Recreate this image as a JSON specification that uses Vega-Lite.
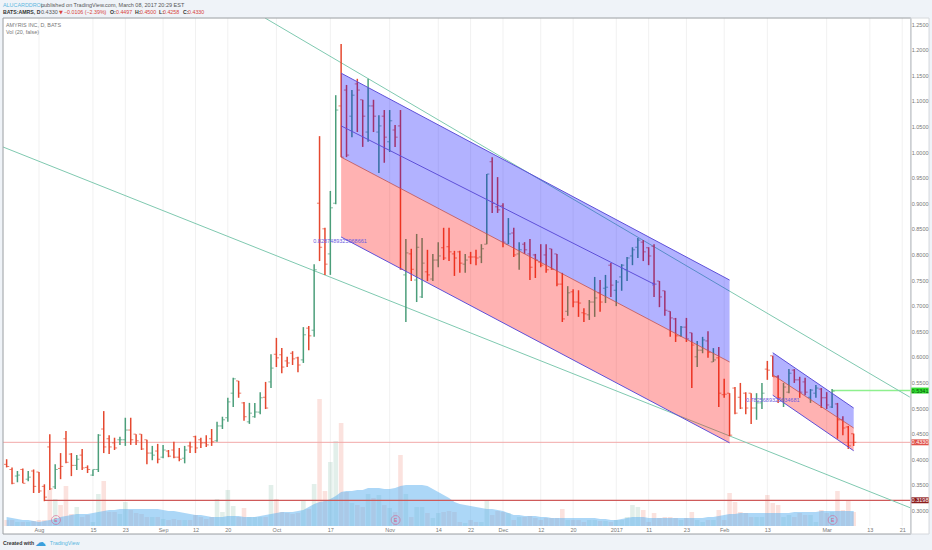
{"$schema":"https://vega.github.io/schema/vega-lite/v6.json","width":932,"height":550,"padding":0,"autosize":{"type":"none"},"background":"#ffffff","config":{"view":{"stroke":null},"font":"Liberation Sans"},
"datasets":{
"bars":[
{"i":-6,"h":0.400,"l":0.384,"o":0.390,"c":0.386,"d":"down","v":6,"ma":9},
{"i":-5,"h":0.384,"l":0.351,"o":0.380,"c":0.353,"d":"down","v":6,"ma":8},
{"i":-4,"h":0.377,"l":0.355,"o":0.367,"c":0.369,"d":"up","v":4,"ma":7},
{"i":-3,"h":0.382,"l":0.353,"o":0.380,"c":0.353,"d":"down","v":4,"ma":6},
{"i":-2,"h":0.377,"l":0.357,"o":0.361,"c":0.365,"d":"up","v":4,"ma":6},
{"i":-1,"h":0.380,"l":0.334,"o":0.377,"c":0.347,"d":"down","v":5,"ma":5},
{"i":0,"h":0.375,"l":0.334,"o":0.375,"c":0.338,"d":"down","v":6,"ma":4},
{"i":1,"h":0.351,"l":0.318,"o":0.347,"c":0.326,"d":"down","v":6,"ma":5},
{"i":2,"h":0.449,"l":0.340,"o":0.424,"c":0.342,"d":"down","v":36,"ma":6},
{"i":3,"h":0.390,"l":0.342,"o":0.346,"c":0.380,"d":"up","v":27,"ma":7},
{"i":4,"h":0.412,"l":0.361,"o":0.382,"c":0.386,"d":"down","v":21,"ma":9},
{"i":5,"h":0.455,"l":0.392,"o":0.440,"c":0.394,"d":"down","v":40,"ma":10},
{"i":6,"h":0.412,"l":0.367,"o":0.410,"c":0.388,"d":"down","v":12,"ma":11},
{"i":7,"h":0.408,"l":0.379,"o":0.388,"c":0.400,"d":"up","v":19,"ma":12},
{"i":8,"h":0.420,"l":0.379,"o":0.408,"c":0.383,"d":"down","v":9,"ma":12},
{"i":9,"h":0.388,"l":0.373,"o":0.384,"c":0.380,"d":"down","v":11,"ma":12},
{"i":10,"h":0.380,"l":0.367,"o":0.369,"c":0.380,"d":"up","v":4,"ma":13},
{"i":11,"h":0.449,"l":0.375,"o":0.380,"c":0.447,"d":"up","v":32,"ma":14},
{"i":12,"h":0.494,"l":0.412,"o":0.459,"c":0.424,"d":"down","v":45,"ma":15},
{"i":13,"h":0.447,"l":0.410,"o":0.440,"c":0.424,"d":"down","v":14,"ma":16},
{"i":14,"h":0.442,"l":0.418,"o":0.432,"c":0.422,"d":"down","v":14,"ma":16},
{"i":15,"h":0.444,"l":0.428,"o":0.438,"c":0.438,"d":"up","v":12,"ma":17},
{"i":16,"h":0.481,"l":0.426,"o":0.438,"c":0.457,"d":"up","v":24,"ma":17},
{"i":17,"h":0.481,"l":0.428,"o":0.457,"c":0.438,"d":"down","v":16,"ma":17},
{"i":18,"h":0.449,"l":0.428,"o":0.449,"c":0.436,"d":"down","v":13,"ma":17},
{"i":19,"h":0.449,"l":0.418,"o":0.449,"c":0.420,"d":"down","v":12,"ma":17},
{"i":20,"h":0.438,"l":0.390,"o":0.438,"c":0.412,"d":"down","v":9,"ma":17},
{"i":21,"h":0.426,"l":0.398,"o":0.412,"c":0.408,"d":"up","v":9,"ma":17},
{"i":22,"h":0.430,"l":0.392,"o":0.416,"c":0.400,"d":"down","v":9,"ma":17},
{"i":23,"h":0.428,"l":0.402,"o":0.404,"c":0.418,"d":"up","v":7,"ma":16},
{"i":24,"h":0.418,"l":0.404,"o":0.416,"c":0.406,"d":"down","v":6,"ma":15},
{"i":25,"h":0.434,"l":0.402,"o":0.418,"c":0.404,"d":"down","v":7,"ma":15},
{"i":26,"h":0.422,"l":0.396,"o":0.404,"c":0.400,"d":"down","v":6,"ma":14},
{"i":27,"h":0.426,"l":0.392,"o":0.402,"c":0.418,"d":"up","v":6,"ma":13},
{"i":28,"h":0.434,"l":0.412,"o":0.426,"c":0.424,"d":"down","v":6,"ma":12},
{"i":29,"h":0.446,"l":0.412,"o":0.444,"c":0.422,"d":"down","v":11,"ma":11},
{"i":30,"h":0.442,"l":0.422,"o":0.438,"c":0.432,"d":"down","v":9,"ma":11},
{"i":31,"h":0.447,"l":0.424,"o":0.432,"c":0.428,"d":"down","v":7,"ma":10},
{"i":32,"h":0.459,"l":0.426,"o":0.440,"c":0.434,"d":"down","v":9,"ma":9},
{"i":33,"h":0.473,"l":0.434,"o":0.436,"c":0.465,"d":"up","v":27,"ma":9},
{"i":34,"h":0.483,"l":0.459,"o":0.465,"c":0.477,"d":"up","v":14,"ma":9},
{"i":35,"h":0.520,"l":0.473,"o":0.481,"c":0.512,"d":"up","v":36,"ma":10},
{"i":36,"h":0.559,"l":0.502,"o":0.529,"c":0.557,"d":"up","v":20,"ma":10},
{"i":37,"h":0.553,"l":0.520,"o":0.553,"c":0.529,"d":"down","v":9,"ma":10},
{"i":38,"h":0.512,"l":0.475,"o":0.510,"c":0.483,"d":"down","v":18,"ma":9},
{"i":39,"h":0.510,"l":0.469,"o":0.473,"c":0.490,"d":"up","v":9,"ma":9},
{"i":40,"h":0.510,"l":0.481,"o":0.483,"c":0.492,"d":"up","v":9,"ma":9},
{"i":41,"h":0.531,"l":0.488,"o":0.492,"c":0.520,"d":"up","v":9,"ma":10},
{"i":42,"h":0.551,"l":0.498,"o":0.521,"c":0.500,"d":"down","v":9,"ma":11},
{"i":43,"h":0.605,"l":0.539,"o":0.551,"c":0.578,"d":"up","v":41,"ma":12},
{"i":44,"h":0.637,"l":0.580,"o":0.605,"c":0.598,"d":"down","v":27,"ma":13},
{"i":45,"h":0.617,"l":0.568,"o":0.604,"c":0.580,"d":"down","v":14,"ma":14},
{"i":46,"h":0.600,"l":0.580,"o":0.592,"c":0.588,"d":"down","v":13,"ma":14},
{"i":47,"h":0.611,"l":0.584,"o":0.607,"c":0.596,"d":"down","v":12,"ma":14},
{"i":48,"h":0.600,"l":0.570,"o":0.598,"c":0.584,"d":"down","v":13,"ma":15},
{"i":49,"h":0.658,"l":0.588,"o":0.594,"c":0.643,"d":"up","v":26,"ma":16},
{"i":50,"h":0.660,"l":0.613,"o":0.656,"c":0.641,"d":"down","v":17,"ma":19},
{"i":51,"h":0.781,"l":0.639,"o":0.652,"c":0.770,"d":"up","v":42,"ma":22},
{"i":52,"h":1.031,"l":0.787,"o":0.900,"c":0.814,"d":"down","v":127,"ma":24},
{"i":53,"h":0.852,"l":0.760,"o":0.850,"c":0.781,"d":"down","v":35,"ma":25},
{"i":54,"h":0.924,"l":0.760,"o":0.801,"c":0.891,"d":"up","v":64,"ma":27},
{"i":55,"h":1.111,"l":0.898,"o":0.900,"c":1.082,"d":"up","v":85,"ma":30},
{"i":56,"h":1.211,"l":0.990,"o":1.090,"c":0.990,"d":"down","v":103,"ma":34},
{"i":57,"h":1.131,"l":0.990,"o":1.121,"c":0.994,"d":"down","v":34,"ma":35},
{"i":58,"h":1.121,"l":1.029,"o":1.070,"c":1.111,"d":"up","v":23,"ma":35},
{"i":59,"h":1.143,"l":1.039,"o":1.133,"c":1.121,"d":"down","v":21,"ma":36},
{"i":60,"h":1.102,"l":1.010,"o":1.102,"c":1.070,"d":"down","v":19,"ma":36},
{"i":61,"h":1.143,"l":1.020,"o":1.039,"c":1.090,"d":"up","v":32,"ma":38},
{"i":62,"h":1.102,"l":1.039,"o":1.090,"c":1.070,"d":"down","v":28,"ma":38},
{"i":63,"h":1.072,"l":0.959,"o":1.039,"c":1.051,"d":"up","v":31,"ma":38},
{"i":64,"h":1.082,"l":0.979,"o":1.070,"c":1.029,"d":"down","v":21,"ma":37},
{"i":65,"h":1.082,"l":1.000,"o":1.020,"c":1.061,"d":"up","v":18,"ma":37},
{"i":66,"h":1.053,"l":1.010,"o":1.043,"c":1.029,"d":"down","v":14,"ma":38},
{"i":67,"h":1.082,"l":0.770,"o":1.051,"c":0.771,"d":"down","v":71,"ma":40},
{"i":68,"h":0.830,"l":0.668,"o":0.760,"c":0.803,"d":"up","v":32,"ma":41},
{"i":69,"h":0.811,"l":0.748,"o":0.801,"c":0.771,"d":"down","v":9,"ma":41},
{"i":70,"h":0.840,"l":0.707,"o":0.750,"c":0.814,"d":"up","v":19,"ma":41},
{"i":71,"h":0.832,"l":0.715,"o":0.717,"c":0.783,"d":"up","v":19,"ma":41},
{"i":72,"h":0.809,"l":0.748,"o":0.766,"c":0.760,"d":"down","v":13,"ma":40},
{"i":73,"h":0.801,"l":0.748,"o":0.752,"c":0.789,"d":"up","v":8,"ma":37},
{"i":74,"h":0.824,"l":0.775,"o":0.789,"c":0.797,"d":"up","v":13,"ma":34},
{"i":75,"h":0.852,"l":0.789,"o":0.813,"c":0.793,"d":"down","v":14,"ma":31},
{"i":76,"h":0.852,"l":0.787,"o":0.815,"c":0.805,"d":"down","v":15,"ma":28},
{"i":77,"h":0.807,"l":0.758,"o":0.801,"c":0.793,"d":"down","v":14,"ma":24},
{"i":78,"h":0.807,"l":0.764,"o":0.805,"c":0.783,"d":"down","v":4,"ma":22},
{"i":79,"h":0.801,"l":0.764,"o":0.781,"c":0.789,"d":"up","v":3,"ma":21},
{"i":80,"h":0.805,"l":0.781,"o":0.795,"c":0.795,"d":"down","v":6,"ma":20},
{"i":81,"h":0.809,"l":0.779,"o":0.795,"c":0.793,"d":"down","v":4,"ma":19},
{"i":82,"h":0.820,"l":0.783,"o":0.795,"c":0.811,"d":"up","v":4,"ma":18},
{"i":83,"h":0.957,"l":0.820,"o":0.820,"c":0.957,"d":"up","v":26,"ma":17},
{"i":84,"h":0.990,"l":0.881,"o":0.981,"c":0.900,"d":"down","v":11,"ma":17},
{"i":85,"h":0.951,"l":0.881,"o":0.893,"c":0.887,"d":"down","v":15,"ma":16},
{"i":86,"h":0.900,"l":0.814,"o":0.895,"c":0.824,"d":"down","v":14,"ma":15},
{"i":87,"h":0.871,"l":0.820,"o":0.820,"c":0.840,"d":"up","v":13,"ma":13},
{"i":88,"h":0.852,"l":0.795,"o":0.842,"c":0.799,"d":"down","v":6,"ma":11},
{"i":89,"h":0.824,"l":0.770,"o":0.801,"c":0.809,"d":"up","v":9,"ma":11},
{"i":90,"h":0.824,"l":0.801,"o":0.820,"c":0.809,"d":"down","v":9,"ma":10},
{"i":91,"h":0.830,"l":0.750,"o":0.801,"c":0.775,"d":"down","v":10,"ma":10},
{"i":92,"h":0.801,"l":0.754,"o":0.799,"c":0.789,"d":"down","v":8,"ma":10},
{"i":93,"h":0.820,"l":0.775,"o":0.785,"c":0.779,"d":"down","v":6,"ma":9},
{"i":94,"h":0.820,"l":0.764,"o":0.799,"c":0.770,"d":"down","v":8,"ma":9},
{"i":95,"h":0.811,"l":0.770,"o":0.811,"c":0.771,"d":"down","v":8,"ma":8},
{"i":96,"h":0.801,"l":0.738,"o":0.801,"c":0.742,"d":"down","v":8,"ma":8},
{"i":97,"h":0.764,"l":0.668,"o":0.742,"c":0.674,"d":"down","v":17,"ma":8},
{"i":98,"h":0.738,"l":0.680,"o":0.689,"c":0.725,"d":"up","v":6,"ma":8},
{"i":99,"h":0.732,"l":0.697,"o":0.727,"c":0.707,"d":"down","v":6,"ma":8},
{"i":100,"h":0.730,"l":0.678,"o":0.707,"c":0.705,"d":"down","v":6,"ma":8},
{"i":101,"h":0.695,"l":0.668,"o":0.686,"c":0.684,"d":"down","v":4,"ma":8},
{"i":102,"h":0.711,"l":0.672,"o":0.682,"c":0.707,"d":"up","v":6,"ma":8},
{"i":103,"h":0.756,"l":0.678,"o":0.707,"c":0.715,"d":"up","v":6,"ma":8},
{"i":104,"h":0.750,"l":0.688,"o":0.725,"c":0.707,"d":"down","v":5,"ma":7},
{"i":105,"h":0.760,"l":0.705,"o":0.734,"c":0.736,"d":"up","v":5,"ma":7},
{"i":106,"h":0.783,"l":0.717,"o":0.779,"c":0.740,"d":"down","v":4,"ma":6},
{"i":107,"h":0.750,"l":0.699,"o":0.730,"c":0.746,"d":"up","v":6,"ma":6},
{"i":108,"h":0.781,"l":0.729,"o":0.756,"c":0.779,"d":"up","v":6,"ma":7},
{"i":109,"h":0.795,"l":0.748,"o":0.770,"c":0.793,"d":"up","v":9,"ma":8},
{"i":110,"h":0.814,"l":0.779,"o":0.797,"c":0.809,"d":"up","v":21,"ma":9},
{"i":111,"h":0.832,"l":0.793,"o":0.814,"c":0.828,"d":"up","v":19,"ma":9},
{"i":112,"h":0.828,"l":0.787,"o":0.824,"c":0.805,"d":"down","v":16,"ma":9},
{"i":113,"h":0.814,"l":0.779,"o":0.813,"c":0.797,"d":"down","v":4,"ma":8},
{"i":114,"h":0.820,"l":0.717,"o":0.816,"c":0.742,"d":"down","v":13,"ma":8},
{"i":115,"h":0.748,"l":0.697,"o":0.748,"c":0.717,"d":"down","v":8,"ma":8},
{"i":116,"h":0.729,"l":0.680,"o":0.729,"c":0.691,"d":"down","v":9,"ma":8},
{"i":117,"h":0.689,"l":0.639,"o":0.689,"c":0.676,"d":"down","v":9,"ma":8},
{"i":118,"h":0.676,"l":0.629,"o":0.674,"c":0.641,"d":"down","v":8,"ma":8},
{"i":119,"h":0.660,"l":0.639,"o":0.641,"c":0.658,"d":"up","v":6,"ma":8},
{"i":120,"h":0.676,"l":0.629,"o":0.658,"c":0.635,"d":"down","v":8,"ma":8},
{"i":121,"h":0.647,"l":0.539,"o":0.647,"c":0.623,"d":"down","v":14,"ma":8},
{"i":122,"h":0.631,"l":0.580,"o":0.600,"c":0.613,"d":"up","v":6,"ma":8},
{"i":123,"h":0.639,"l":0.607,"o":0.613,"c":0.633,"d":"up","v":4,"ma":8},
{"i":124,"h":0.650,"l":0.598,"o":0.631,"c":0.609,"d":"down","v":6,"ma":9},
{"i":125,"h":0.617,"l":0.590,"o":0.590,"c":0.594,"d":"up","v":6,"ma":9},
{"i":126,"h":0.619,"l":0.502,"o":0.598,"c":0.529,"d":"down","v":16,"ma":10},
{"i":127,"h":0.557,"l":0.520,"o":0.526,"c":0.527,"d":"down","v":6,"ma":11},
{"i":128,"h":0.529,"l":0.445,"o":0.529,"c":0.447,"d":"down","v":33,"ma":12},
{"i":129,"h":0.541,"l":0.488,"o":0.539,"c":0.490,"d":"down","v":24,"ma":12},
{"i":130,"h":0.549,"l":0.498,"o":0.521,"c":0.500,"d":"down","v":14,"ma":13},
{"i":131,"h":0.531,"l":0.488,"o":0.529,"c":0.500,"d":"down","v":13,"ma":13},
{"i":132,"h":0.529,"l":0.469,"o":0.529,"c":0.500,"d":"down","v":9,"ma":13},
{"i":133,"h":0.529,"l":0.477,"o":0.500,"c":0.510,"d":"up","v":9,"ma":13},
{"i":134,"h":0.549,"l":0.498,"o":0.510,"c":0.529,"d":"up","v":9,"ma":13},
{"i":135,"h":0.592,"l":0.555,"o":0.576,"c":0.574,"d":"down","v":31,"ma":13},
{"i":136,"h":0.602,"l":0.561,"o":0.602,"c":0.561,"d":"down","v":23,"ma":13},
{"i":137,"h":0.564,"l":0.510,"o":0.561,"c":0.520,"d":"down","v":21,"ma":13},
{"i":138,"h":0.549,"l":0.502,"o":0.516,"c":0.541,"d":"up","v":9,"ma":13},
{"i":139,"h":0.576,"l":0.529,"o":0.531,"c":0.568,"d":"up","v":11,"ma":13},
{"i":140,"h":0.576,"l":0.549,"o":0.574,"c":0.555,"d":"down","v":9,"ma":14},
{"i":141,"h":0.561,"l":0.520,"o":0.555,"c":0.531,"d":"down","v":13,"ma":14},
{"i":142,"h":0.559,"l":0.525,"o":0.551,"c":0.531,"d":"down","v":11,"ma":14},
{"i":143,"h":0.537,"l":0.510,"o":0.521,"c":0.535,"d":"up","v":11,"ma":14},
{"i":144,"h":0.545,"l":0.520,"o":0.529,"c":0.539,"d":"up","v":4,"ma":14},
{"i":145,"h":0.539,"l":0.500,"o":0.537,"c":0.520,"d":"down","v":16,"ma":15},
{"i":146,"h":0.531,"l":0.498,"o":0.520,"c":0.506,"d":"down","v":13,"ma":15},
{"i":147,"h":0.537,"l":0.500,"o":0.502,"c":0.533,"d":"up","v":14,"ma":15},
{"i":148,"h":0.510,"l":0.440,"o":0.508,"c":0.477,"d":"down","v":35,"ma":15},
{"i":149,"h":0.484,"l":0.447,"o":0.477,"c":0.461,"d":"down","v":16,"ma":15},
{"i":150,"h":0.465,"l":0.420,"o":0.463,"c":0.426,"d":"down","v":25,"ma":15},
{"i":151,"h":0.450,"l":0.4258,"o":0.4497,"c":0.433,"d":"down","v":14,"ma":15}
],
"blueBand":[{"ch":"a","i":56,"p1":1.154,"p2":0.990},{"ch":"a","i":128,"p1":0.750,"p2":0.590},{"ch":"b","i":136,"p1":0.608,"p2":0.565},{"ch":"b","i":151,"p1":0.500,"p2":0.461}],
"redBand":[{"ch":"a","i":56,"p1":0.990,"p2":0.834},{"ch":"a","i":128,"p1":0.590,"p2":0.432},{"ch":"b","i":136,"p1":0.565,"p2":0.525},{"ch":"b","i":151,"p1":0.461,"p2":0.4166}],
"edges":[{"e":"a1","i":56,"p":1.154},{"e":"a1","i":128,"p":0.750},{"e":"a2","i":56,"p":0.834},{"e":"a2","i":128,"p":0.432},{"e":"a3","i":56,"p":1.051},{"e":"a3","i":114,"p":0.742},{"e":"b1","i":136,"p":0.608},{"e":"b1","i":151,"p":0.500},{"e":"b2","i":136,"p":0.525},{"e":"b2","i":151,"p":0.4166}],
"mids":[{"e":"a","i":56,"p":0.990},{"e":"a","i":128,"p":0.590},{"e":"b","i":136,"p":0.565},{"e":"b","i":151,"p":0.461}],
"trends":[{"t":"A","i":41.9,"p":1.2617},{"t":"A","i":161.4,"p":0.5214},{"t":"B","i":-6.67,"p":1.0098},{"t":"B","i":161.6,"p":0.3047}],
"yticks":[{"p":0.30},{"p":0.35},{"p":0.40},{"p":0.45},{"p":0.50},{"p":0.55},{"p":0.60},{"p":0.65},{"p":0.70},{"p":0.75},{"p":0.80},{"p":0.85},{"p":0.90},{"p":0.95},{"p":1.00},{"p":1.05},{"p":1.10},{"p":1.15},{"p":1.20},{"p":1.25}],
"xticks":[{"i":0},{"i":10},{"i":16},{"i":23},{"i":29},{"i":35},{"i":44},{"i":54},{"i":65},{"i":74},{"i":80},{"i":86},{"i":93},{"i":99},{"i":107},{"i":113},{"i":120},{"i":127},{"i":135},{"i":146},{"i":154},{"i":160}]
},
"encoding":{"x":{"field":"i","type":"quantitative","title":null,"scale":{"domain":[-7.229,165.52],"nice":false,"zero":false,"padding":0},"axis":{"values":[0,10,16,23,29,35,44,54,65,74,80,86,93,99,107,113,120,127,135,146,154,160],"labelExpr":"{'0':'Aug','10':'15','16':'23','23':'Sep','29':'12','35':'20','44':'Oct','54':'17','65':'Nov','74':'14','80':'22','86':'Dec','93':'12','99':'20','107':'2017','113':'11','120':'23','127':'Feb','135':'13','146':'Mar','154':'13','160':'21'}[datum.value+'']","domain":false,"ticks":false,"tickSize":0,"labelPadding":-23,"labelFontSize":5.5,"labelColor":"#777777","labelFlush":false,"labelOverlap":false,"grid":false,"zindex":1}}},
"resolve":{"scale":{"y":"independent"},"axis":{"y":"independent"}},
"layer":[
{"encoding":{"y":{"type":"quantitative","scale":{"domain":[0.2227,1.2969],"nice":false,"zero":false},"axis":null}},"layer":[
{"data":{"name":"yticks"},"mark":{"type":"rule","color":"#f1f1f1","strokeWidth":1},"encoding":{"x":{"datum":-6.67},"x2":{"datum":161.6},"y":{"field":"p","type":"quantitative","scale":{"domain":[0.2227,1.2969],"nice":false,"zero":false},"axis":null}}},
{"data":{"name":"xticks"},"mark":{"type":"rule","color":"#f1f1f1","strokeWidth":1},"encoding":{"y":{"datum":0.2695,"type":"quantitative","scale":{"domain":[0.2227,1.2969],"nice":false,"zero":false},"axis":null},"y2":{"datum":1.2617}}}
]},
{"data":{"name":"bars"},"encoding":{"y":{"type":"quantitative","scale":{"domain":[-24,526],"nice":false,"zero":false},"axis":null}},"layer":[
{"mark":{"type":"bar","size":4.6,"opacity":0.16},"encoding":{"y":{"field":"v","type":"quantitative","scale":{"domain":[-24,526],"nice":false,"zero":false},"axis":null},"color":{"field":"d","type":"nominal","legend":null,"scale":{"domain":["up","down"],"range":["#4b9e7a","#e5482f"]}}}},
{"mark":{"type":"area","color":"#5ab0f0","opacity":0.5,"orient":"vertical"},"encoding":{"y":{"field":"ma","type":"quantitative","scale":{"domain":[-24,526],"nice":false,"zero":false},"axis":null},"y2":{"datum":0}}}
]},
{"encoding":{"y":{"field":"p","type":"quantitative","title":null,"scale":{"domain":[0.2227,1.2969],"nice":false,"zero":false},"axis":{"orient":"right","values":[0.30,0.35,0.40,0.45,0.50,0.55,0.60,0.65,0.70,0.75,0.80,0.85,0.90,0.95,1.00,1.05,1.10,1.15,1.20,1.25],"format":".4f","domain":false,"ticks":false,"tickSize":0,"labelAlign":"right","labelPadding":-4,"labelFontSize":5.5,"labelColor":"#777777","labelOverlap":false,"grid":false,"zindex":1}}},"layer":[
{"data":{"values":[{"i":-6.67,"i2":161.6,"p":0.433}]},"mark":{"type":"rule","color":"#f2a8a8","strokeWidth":1},"encoding":{"x2":{"field":"i2"}}},
{"data":{"values":[{"i":1,"i2":161.6,"p":0.3198}]},"mark":{"type":"rule","color":"#cf5a5a","strokeWidth":1.2},"encoding":{"x2":{"field":"i2"}}},
{"data":{"values":[{"i":147,"i2":161.6,"p":0.5341}]},"mark":{"type":"rule","color":"#8ef08e","strokeWidth":1.5},"encoding":{"x2":{"field":"i2"}}},
{"data":{"name":"trends"},"mark":{"type":"line","color":"#7fc9b0","strokeWidth":1},"encoding":{"detail":{"field":"t"}}},
{"data":{"name":"bars"},"mark":{"type":"rule","strokeWidth":1.5},"encoding":{"y":{"field":"h","type":"quantitative"},"y2":{"field":"l"},"color":{"field":"d","type":"nominal","legend":null}}},
{"data":{"name":"bars"},"mark":{"type":"tick","orient":"horizontal","size":2.4,"thickness":1,"xOffset":-1.4},"encoding":{"y":{"field":"o","type":"quantitative"},"color":{"field":"d","type":"nominal","legend":null}}},
{"data":{"name":"bars"},"mark":{"type":"tick","orient":"horizontal","size":2.4,"thickness":1,"xOffset":1.4},"encoding":{"y":{"field":"c","type":"quantitative"},"color":{"field":"d","type":"nominal","legend":null}}},
{"data":{"name":"blueBand"},"mark":{"type":"area","color":"#0000ff","opacity":0.3,"orient":"vertical"},"encoding":{"y":{"field":"p1","type":"quantitative"},"y2":{"field":"p2"},"detail":{"field":"ch"}}},
{"data":{"name":"redBand"},"mark":{"type":"area","color":"#ff0000","opacity":0.3,"orient":"vertical"},"encoding":{"y":{"field":"p1","type":"quantitative"},"y2":{"field":"p2"},"detail":{"field":"ch"}}},
{"data":{"name":"edges"},"mark":{"type":"line","color":"#5e50d8","strokeWidth":1},"encoding":{"detail":{"field":"e"}}},
{"data":{"name":"mids"},"mark":{"type":"line","color":"#c0504f","strokeWidth":0.8},"encoding":{"detail":{"field":"e"}}},
{"data":{"values":[{"i":114,"p":0.742}]},"mark":{"type":"point","shape":"triangle-right","filled":true,"size":14,"color":"#5e50d8"}},
{"data":{"values":[{"i":55.8,"p":0.8262,"t":"0.8287489325968661"},{"i":136,"p":0.516,"t":"0.7825689325934681"}]},"mark":{"type":"text","fontSize":5.5,"color":"#6a5ae0"},"encoding":{"text":{"field":"t"}}},
{"data":{"values":[{"i":3.15,"p":0.2813},{"i":66.1,"p":0.2813},{"i":147.1,"p":0.2813}]},"mark":{"type":"point","shape":"circle","size":80,"filled":false,"color":"#d85a8c","strokeWidth":0.8}},
{"data":{"values":[{"i":3.15,"p":0.2813,"t":"E"},{"i":66.1,"p":0.2813,"t":"E"},{"i":147.1,"p":0.2813,"t":"E"}]},"mark":{"type":"text","fontSize":5,"color":"#d85a8c"},"encoding":{"text":{"field":"t"}}},
{"data":{"values":[{"i":-7.229,"i2":165.52,"p":1.2617,"p2":1.2969},{"i":-7.229,"i2":165.52,"p":0.2227,"p2":0.2539},{"i":-7.229,"i2":-6.67,"p":0.2539,"p2":1.2617},{"i":164.97,"i2":165.52,"p":0.2539,"p2":1.2617}]},"mark":{"type":"rect","color":"#eff3f8"},"encoding":{"x2":{"field":"i2"},"y2":{"field":"p2"}}},
{"data":{"values":[{"i":-6.67,"i2":161.6,"p":0.2539,"p2":1.2617}]},"mark":{"type":"rect","filled":false,"stroke":"#9a9ea3","strokeWidth":1},"encoding":{"x2":{"field":"i2"},"y2":{"field":"p2"}}},
{"data":{"values":[{"i":161.6,"i2":164.97,"p":0.2539,"p2":1.2617}]},"mark":{"type":"rect","filled":false,"stroke":"#d5d8dc","strokeWidth":1},"encoding":{"x2":{"field":"i2"},"y2":{"field":"p2"}}},
{"data":{"name":"yticks"},"mark":{"type":"rule","color":"#9a9ea3","strokeWidth":1},"encoding":{"x":{"datum":161.6},"x2":{"datum":162.1}}},
{"data":{"values":[{"i":161.7,"i2":164.9,"p":0.4272,"p2":0.4388}]},"mark":{"type":"rect","color":"#e0524a"},"encoding":{"x2":{"field":"i2"},"y2":{"field":"p2"}}},
{"data":{"values":[{"i":161.7,"i2":164.9,"p":0.314,"p2":0.3256}]},"mark":{"type":"rect","color":"#8c1c1c"},"encoding":{"x2":{"field":"i2"},"y2":{"field":"p2"}}},
{"data":{"values":[{"i":161.7,"i2":164.9,"p":0.5283,"p2":0.5399}]},"mark":{"type":"rect","color":"#2fdc2f"},"encoding":{"x2":{"field":"i2"},"y2":{"field":"p2"}}},
{"data":{"values":[{"i":163.3,"p":0.433,"t":"0.4330"},{"i":163.3,"p":0.3198,"t":"0.3198"}]},"mark":{"type":"text","fontSize":5.5,"color":"#ffffff"},"encoding":{"text":{"field":"t"}}},
{"data":{"values":[{"i":163.3,"p":0.5341,"t":"0.5341"}]},"mark":{"type":"text","fontSize":5.5,"color":"#0b4f0b"},"encoding":{"text":{"field":"t"}}},
{"data":{"values":[{"i":-6.67,"p":1.2871,"t":"ALUCARDDROL"},{"i":2.0,"p":0.237,"t":"TradingView"}]},"mark":{"type":"text","align":"left","fontSize":5.4,"color":"#5bb7e0"},"encoding":{"text":{"field":"t"}}},
{"data":{"values":[{"i":0.37,"p":1.2871,"t":"published on TradingView.com, March 08, 2017 20:29 EST"},{"i":0.37,"p":1.2725,"t":"0.4330"}]},"mark":{"type":"text","align":"left","fontSize":5.5,"color":"#555555"},"encoding":{"text":{"field":"t"}}},
{"data":{"values":[{"i":-6.67,"p":1.2725,"t":"BATS:AMRS, D"},{"i":13.16,"p":1.2725,"t":"O:"},{"i":17.79,"p":1.2725,"t":"H:"},{"i":22.24,"p":1.2725,"t":"L:"},{"i":26.69,"p":1.2725,"t":"C:"},{"i":-6.67,"p":0.237,"t":"Created with"}]},"mark":{"type":"text","align":"left","fontSize":5.2,"fontWeight":"bold","color":"#333333"},"encoding":{"text":{"field":"t"}}},
{"data":{"values":[{"i":4.63,"p":1.2725,"t":"−0.0106 (−2.39%)"},{"i":14.27,"p":1.2725,"t":"0.4497"},{"i":18.72,"p":1.2725,"t":"0.4500"},{"i":22.98,"p":1.2725,"t":"0.4258"},{"i":27.62,"p":1.2725,"t":"0.4330"}]},"mark":{"type":"text","align":"left","fontSize":5.3,"color":"#d8443a"},"encoding":{"text":{"field":"t"}}},
{"data":{"values":[{"i":3.7,"p":1.2725,"t":"▼"}]},"mark":{"type":"text","align":"left","fontSize":5,"color":"#d8443a","font":"DejaVu Sans"},"encoding":{"text":{"field":"t"}}},
{"data":{"values":[{"i":-6.12,"p":1.248,"t":"AMYRIS INC, D, BATS"},{"i":-6.12,"p":1.2344,"t":"Vol (20, false)"}]},"mark":{"type":"text","align":"left","fontSize":5.4,"color":"#777777"},"encoding":{"text":{"field":"t"}}},
{"data":{"values":[{"i":0.3,"p":0.237,"t":"☁"}]},"mark":{"type":"text","align":"center","fontSize":11,"font":"DejaVu Sans","color":"#3b9edb"},"encoding":{"text":{"field":"t"}}}
]}
]}
